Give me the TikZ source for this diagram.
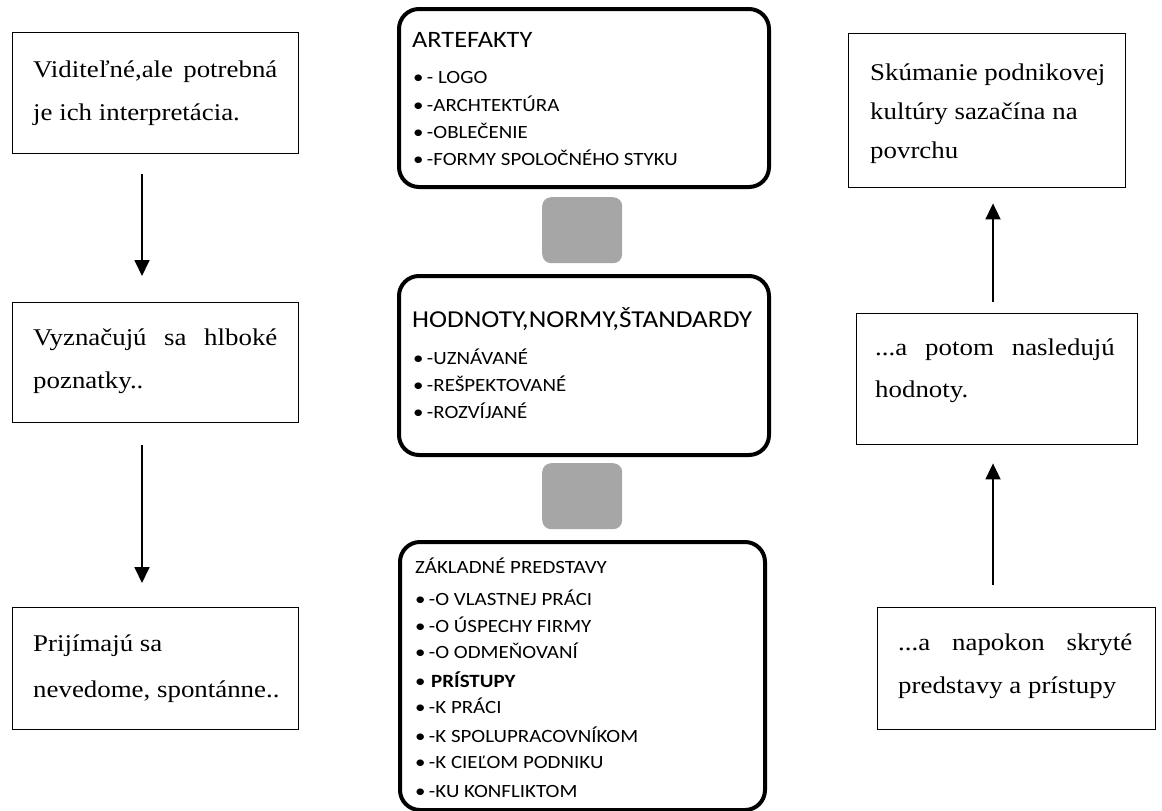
\documentclass[tikz,border=0pt]{standalone}
\usepackage{fontspec}
\usepackage{graphicx}
\setmainfont{Liberation Serif}
\newfontfamily\calibri{Carlito}
\usetikzlibrary{arrows.meta}
\newcommand{\hs}[1]{\scalebox{1.12}[1]{#1}}
\newcommand{\jl}[2]{\scalebox{1.12}[1]{\makebox[#1][s]{#2}}}
\definecolor{grayc}{HTML}{A6A6A6}
\tikzset{
 sidebox/.style={draw, line width=1.4pt, inner sep=0pt, anchor=north west},
 midbox/.style={draw, line width=4pt, rounded corners=20pt, inner sep=0pt, anchor=north west},
 graybox/.style={fill=grayc, rounded corners=9pt, inner sep=0pt, anchor=north west},
 serif/.style={anchor=base west, inner sep=0pt, font=\fontsize{24}{24}\selectfont},
 ttl/.style={anchor=base west, inner sep=0pt, font=\calibri\fontsize{23.5}{23.5}\selectfont},
 itm/.style={anchor=base west, inner sep=0pt, font=\calibri\fontsize{18.7}{18.7}\selectfont},
 arr/.style={line width=1.8pt, -{Triangle[width=15pt,length=16pt]}}
}
\begin{document}
\begin{tikzpicture}[x=1pt,y=-1pt]
\path[use as bounding box, fill=white] (0,0) rectangle (1162,811);

% left boxes
\node[sidebox, minimum width=286pt, minimum height=121pt] (L1) at (12,32) {};
\node[sidebox, minimum width=286pt, minimum height=120pt] (L2) at (12,302) {};
\node[sidebox, minimum width=286pt, minimum height=122pt] (L3) at (12,607) {};
% right boxes
\node[sidebox, minimum width=277pt, minimum height=154pt] (R1) at (848,33) {};
\node[sidebox, minimum width=281pt, minimum height=131pt] (R2) at (856,313) {};
\node[sidebox, minimum width=278pt, minimum height=122pt] (R3) at (877,607) {};
% middle boxes
\node[midbox, minimum width=370pt, minimum height=178pt] (M1) at (397,7) {};
\node[midbox, minimum width=370pt, minimum height=179pt] (M2) at (397,274) {};
\node[midbox, minimum width=365pt, minimum height=268pt] (M3) at (398,540) {};
\node[graybox, minimum width=80pt, minimum height=66pt] (G1) at (542,197) {};
\node[graybox, minimum width=80pt, minimum height=66pt] (G2) at (542,463) {};

% left texts
\node[serif] (l1a) at (33,77) {\jl{218pt}{Viditeľné,ale potrebná}};
\node[serif] (l1b) at (33,120) {\hs{je ich interpretácia.}};
\node[serif] (l2a) at (33,345) {\jl{218pt}{Vyznačujú sa hlboké}};
\node[serif] (l2b) at (33,388) {\hs{poznatky..}};
\node[serif] (l3a) at (33,651) {\hs{Prijímajú sa}};
\node[serif] (l3b) at (33,697) {\hs{nevedome, spontánne..}};
% right texts
\node[serif] (r1a) at (870,80) {\hs{Skúmanie podnikovej}};
\node[serif] (r1b) at (870,119) {\hs{kultúry sazačína na}};
\node[serif] (r1c) at (870,158) {\hs{povrchu}};
\node[serif] (r2a) at (875,355) {\jl{214pt}{...a potom nasledujú}};
\node[serif] (r2b) at (875,397) {\hs{hodnoty.}};
\node[serif] (r3a) at (898,650) {\jl{209pt}{...a napokon skryté}};
\node[serif] (r3b) at (898,693) {\hs{predstavy a prístupy}};

% middle texts
\node[ttl] (m1t) at (412,47) {\hs{ARTEFAKTY}};
\node[itm] (m1a) at (413,83) {\hs{•\kern3pt- LOGO}};
\node[itm] (m1b) at (413,111) {\hs{•\kern3pt-ARCHTEKTÚRA}};
\node[itm] (m1c) at (413,138) {\hs{•\kern3pt-OBLEČENIE}};
\node[itm] (m1d) at (413,165) {\hs{•\kern3pt-FORMY SPOLOČNÉHO STYKU}};

\node[ttl, font=\calibri\fontsize{24.3}{24.3}\selectfont] (m2t) at (412,327) {\hs{HODNOTY,NORMY,ŠTANDARDY}};
\node[itm] (m2a) at (413,364) {\hs{•\kern3pt-UZNÁVANÉ}};
\node[itm] (m2b) at (413,391) {\hs{•\kern3pt-REŠPEKTOVANÉ}};
\node[itm] (m2c) at (413,418) {\hs{•\kern3pt-ROZVÍJANÉ}};

\node[itm] (m3t) at (415,573) {\hs{ZÁKLADNÉ PREDSTAVY}};
\node[itm] (m3a) at (415,605) {\hs{•\kern3pt-O VLASTNEJ PRÁCI}};
\node[itm] (m3b) at (415,632) {\hs{•\kern3pt-O ÚSPECHY FIRMY}};
\node[itm] (m3c) at (415,658) {\hs{•\kern3pt-O ODMEŇOVANÍ}};
\node[itm] (m3d) at (415,687) {\hs{•\kern5pt\textbf{PRÍSTUPY}}};
\node[itm] (m3e) at (415,713) {\hs{•\kern3pt-K PRÁCI}};
\node[itm] (m3f) at (415,742) {\hs{•\kern3pt-K SPOLUPRACOVNÍKOM}};
\node[itm] (m3g) at (415,768) {\hs{•\kern3pt-K CIEĽOM PODNIKU}};
\node[itm] (m3h) at (415,797) {\hs{•\kern3pt-KU KONFLIKTOM}};

% arrows
\coordinate (lx) at (142,0);
\coordinate (rx) at (993,0);
\draw[arr, shorten <=20pt, shorten >=26pt] (L1.south -| lx) -- (L2.north -| lx);
\draw[arr, shorten <=22pt, shorten >=24pt] (L2.south -| lx) -- (L3.north -| lx);
\draw[arr, shorten <=11pt, shorten >=15pt] (R2.north -| rx) -- (R1.south -| rx);
\draw[arr, shorten <=22pt, shorten >=18pt] (R3.north -| rx) -- (R2.south -| rx);
\end{tikzpicture}
\end{document}
